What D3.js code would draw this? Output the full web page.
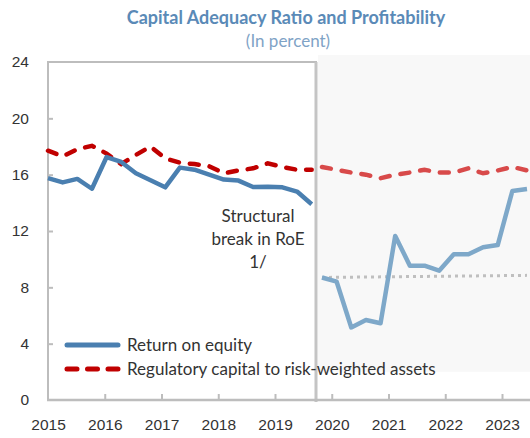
<!DOCTYPE html>
<html>
<head>
<meta charset="utf-8">
<script src="https://cdn.jsdelivr.net/npm/d3@7"></script>
<style>
  body { margin: 0; background: #fff; }
  svg { display: block; font-family: Lato, "Open Sans", sans-serif; }
</style>
</head>
<body>
<svg id="chart" width="530" height="438"></svg>
<script>
// quarterly data, before and after the structural break
const roeBefore = [15.75, 15.45, 15.7, 15.0, 17.25, 16.9, 16.1, 15.6, 15.1, 16.5,
	16.35, 16.0, 15.65, 15.58, 15.12, 15.15, 15.1, 14.8, 13.9];
const carBefore = [17.7, 17.3, 17.8, 18.05, 17.5, 16.75, 17.4, 18.0, 17.15, 16.85,
	16.75, 16.6, 16.1, 16.3, 16.45, 16.8, 16.55, 16.35, 16.35];
const roeAfter = [8.7, 8.4, 5.15, 5.68, 5.45, 11.65, 9.54, 9.54, 9.18, 10.35,
	10.35, 10.85, 11.0, 14.84, 14.98];
const carAfter = [16.55, 16.35, 16.15, 16.0, 15.75, 16.0, 16.15, 16.35, 16.15, 16.15,
	16.45, 16.1, 16.3, 16.55, 16.3];
const roeAvgAfter = [8.7, 8.85]; // first and last quarter only
const years = [2015, 2016, 2017, 2018, 2019, 2020, 2021, 2022, 2023];
const yTicks = [0, 4, 8, 12, 16, 20, 24];

const svg = d3.select("#chart");
const blue = "#4a7fb0", blueLight = "#7ea8c9";
const red = "#c00000", redLight = "#d84a4a";
const frame = "#bdbdbd";

// scales
const y = d3.scaleLinear().domain([0, 24]).range([400, 62]);
const xYear = d3.scaleLinear().domain([2015, 2023]).range([48, 502]);
const xLeft = d3.scaleLinear().domain([0, roeBefore.length - 1]).range([48, 311.7]);
const xRight = d3.scaleLinear().domain([0, roeAfter.length - 1]).range([322, 527]);

// shaded panel after the break
svg.append("rect")
	.attr("x", 318).attr("y", 55)
	.attr("width", 212).attr("height", y(2) - 55)
	.attr("fill", "#f8f8f8");

// frame of left panel
svg.append("path")
	.attr("d", "M48,400V62H316V400")
	.attr("fill", "none").attr("stroke", frame).attr("stroke-width", 2);
svg.append("line")
	.attr("x1", 316).attr("x2", 316).attr("y1", 62).attr("y2", 402)
	.attr("stroke", "#c4c4c4").attr("stroke-width", 3);

// x axis
const xAxis = svg.append("g").attr("transform", "translate(0,400)")
	.call(d3.axisBottom(xYear).tickValues(years).tickFormat(d3.format("d")).tickSizeInner(-6).tickSizeOuter(0).tickPadding(16));
xAxis.select(".domain").attr("stroke", frame).attr("stroke-width", 2.5).attr("d", "M47,0H530");
xAxis.selectAll(".tick line").attr("stroke", frame).attr("stroke-width", 2)
	.filter((d) => d == 2015).remove();
xAxis.selectAll(".tick text").attr("fill", "#333").attr("font-size", 15.5).attr("dy", "0.9em");

// y axis
const yAxis = svg.append("g").attr("transform", "translate(48,0)")
	.call(d3.axisLeft(y).tickValues(yTicks).tickSizeInner(-5).tickSizeOuter(0).tickPadding(19));
yAxis.select(".domain").remove();
yAxis.selectAll(".tick line").attr("stroke", frame).attr("stroke-width", 2)
	.filter((d) => d == 0 || d == 24).remove();
yAxis.selectAll(".tick text").attr("fill", "#333").attr("font-size", 15.5);

// lines
function lineFor(xs) {
	return d3.line().x((d, i) => xs(i)).y((d) => y(d));
}

svg.append("path")
	.datum([roeAvgAfter[0], roeAvgAfter[1]])
	.attr("d", d3.line().x((d, i) => xRight(i * (roeAfter.length - 1))).y((d) => y(d)))
	.attr("fill", "none").attr("stroke", "#bfbfbf").attr("stroke-width", 3)
	.attr("stroke-dasharray", "3,4");

svg.append("path").datum(carBefore)
	.attr("d", lineFor(xLeft))
	.attr("fill", "none").attr("stroke", red).attr("stroke-width", 4.5)
	.attr("stroke-linecap", "round").attr("stroke-dasharray", "9,11");
svg.append("path").datum(carAfter)
	.attr("d", lineFor(xRight))
	.attr("fill", "none").attr("stroke", redLight).attr("stroke-width", 4.5)
	.attr("stroke-linecap", "round").attr("stroke-dasharray", "9,11");

svg.append("path").datum(roeBefore)
	.attr("d", lineFor(xLeft))
	.attr("fill", "none").attr("stroke", blue).attr("stroke-width", 4.5)
	.attr("stroke-linejoin", "round");
svg.append("path").datum(roeAfter)
	.attr("d", lineFor(xRight))
	.attr("fill", "none").attr("stroke", blueLight).attr("stroke-width", 4.5)
	.attr("stroke-linejoin", "round");

// title
svg.append("text")
	.attr("x", 286).attr("y", 24)
	.attr("text-anchor", "middle")
	.attr("font-size", 18).attr("font-weight", "bold")
	.attr("fill", "#5a8ab7")
	.text("Capital Adequacy Ratio and Profitability");
svg.append("text")
	.attr("x", 288).attr("y", 47)
	.attr("text-anchor", "middle")
	.attr("font-size", 17)
	.attr("fill", "#7fa3c6")
	.text("(In percent)");

// annotation
const note = svg.append("text")
	.attr("text-anchor", "middle")
	.attr("font-size", 17).attr("fill", "#333");
["Structural", "break in RoE", "1/"].forEach((t, i) => {
	note.append("tspan").attr("x", 258).attr("y", 222 + i * 23).text(t);
});

// legend
const legend = svg.append("g");
legend.append("line")
	.attr("x1", 67).attr("x2", 118).attr("y1", 345).attr("y2", 345)
	.attr("stroke", blue).attr("stroke-width", 5).attr("stroke-linecap", "round");
legend.append("line")
	.attr("x1", 67).attr("x2", 118).attr("y1", 369).attr("y2", 369)
	.attr("stroke", red).attr("stroke-width", 5).attr("stroke-linecap", "round")
	.attr("stroke-dasharray", "10,10.5");
legend.append("text").attr("x", 127).attr("y", 351)
	.attr("font-size", 17).attr("fill", "#333").text("Return on equity");
legend.append("text").attr("x", 127).attr("y", 375)
	.attr("font-size", 17).attr("fill", "#333").text("Regulatory capital to risk-weighted assets");
</script>
</body>
</html>
